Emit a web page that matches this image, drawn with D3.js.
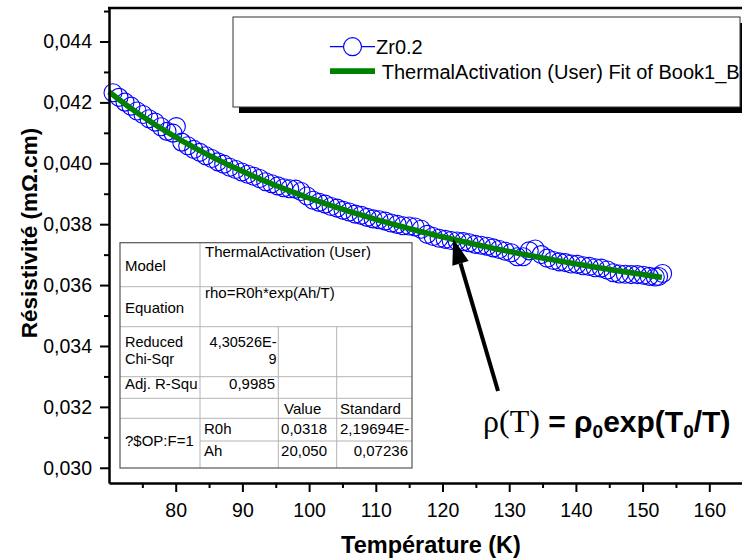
<!DOCTYPE html>
<html>
<head>
<meta charset="utf-8">
<script src="https://cdn.jsdelivr.net/npm/d3@7"></script>
<style>
  html, body { margin: 0; padding: 0; background: #fff; }
  svg { display: block; }
  text { font-family: "Liberation Sans", Arial, sans-serif; fill: #000; }
</style>
</head>
<body>
<div id="chart"></div>
<script>
// Measured resistivity of Zr0.2 versus temperature (K, mΩ.cm)
const temps = [70.6, 71.5, 72.4, 73.3, 74.2, 75.1, 76.0, 76.9, 77.8, 78.7, 79.6, 80.1,
  80.9, 81.8, 82.7, 83.6, 84.5, 85.4, 86.3, 87.2, 88.1, 89.0, 89.9, 90.8, 91.7, 92.6,
  93.5, 94.4, 95.3, 96.2, 97.1, 98.0, 98.8, 99.7, 100.6, 101.5, 102.4, 103.3, 104.2,
  105.1, 106.0, 106.9, 107.8, 108.7, 109.6, 110.5, 111.4, 112.3, 113.2, 114.1, 115.0,
  115.9, 116.8, 117.7, 118.6, 119.5, 120.4, 121.3, 122.2, 123.1, 124.0, 124.9, 125.8,
  126.7, 127.6, 128.5, 129.4, 130.3, 131.2, 132.1, 133.0, 133.9, 134.8, 135.7, 136.6,
  137.5, 138.4, 139.3, 140.2, 141.1, 142.0, 142.9, 143.8, 144.7, 145.6, 146.5, 147.4,
  148.3, 149.2, 150.1, 151.0, 151.9, 152.4, 153.0];
const rho = [0.042315, 0.042165, 0.042008, 0.041876, 0.041717, 0.041602, 0.041461,
  0.041353, 0.041199, 0.041048, 0.040990, 0.041205, 0.040695, 0.040574, 0.040456,
  0.040360, 0.040247, 0.040156, 0.040048, 0.039971, 0.039868, 0.039796, 0.039716,
  0.039638, 0.039573, 0.039498, 0.039396, 0.039326, 0.039257, 0.039199, 0.039164,
  0.039150, 0.039075, 0.038924, 0.038785, 0.038716, 0.038659, 0.038583, 0.038528,
  0.038455, 0.038402, 0.038332, 0.038291, 0.038223, 0.038174, 0.038147, 0.038102,
  0.038037, 0.037993, 0.037949, 0.037938, 0.037906, 0.037836, 0.037667, 0.037598,
  0.037540, 0.037502, 0.037466, 0.037450, 0.037426, 0.037391, 0.037338, 0.037306,
  0.037273, 0.037222, 0.037171, 0.037110, 0.037060, 0.036931, 0.036932, 0.037125,
  0.037187, 0.037001, 0.036884, 0.036808, 0.036763, 0.036738, 0.036694, 0.036680,
  0.036636, 0.036613, 0.036571, 0.036558, 0.036497, 0.036405, 0.036364, 0.036354,
  0.036344, 0.036344, 0.036325, 0.036286, 0.036267, 0.036282, 0.036380];

// Thermal activation fit: rho = R0h * exp(Ah / T)
const fitR0h = 0.0318;
const fitAh = 20.050;
const fitRange = [70, 152.9];

// Axis ticks
const xTicks = [80, 90, 100, 110, 120, 130, 140, 150, 160];
const xMinorTicks = [75, 85, 95, 105, 115, 125, 135, 145, 155, 165];
const yTicks = [0.030, 0.032, 0.034, 0.036, 0.038, 0.040, 0.042, 0.044];
const yMinorTicks = [0.031, 0.033, 0.035, 0.037, 0.039, 0.041, 0.043, 0.045];

// Fit report table
const seriesName = "Zr0.2";
const fitLegend = "ThermalActivation (User) Fit of Book1_B";
const modelName = "ThermalActivation (User)";
const equationText = "rho=R0h*exp(Ah/T)";
const chiSqrText = ["4,30526E-", "9"];
const adjR2Text = "0,9985";
const paramHeaders = ["Value", "Standard"];
const paramNames = ["R0h", "Ah"];
const paramValues = ["0,0318", "20,050"];
const paramErrors = ["2,19694E-", "0,07236"];

const W = 742, H = 559;
const FONT = '"Liberation Sans", Arial, sans-serif';
const svg = d3.select("#chart").append("svg").attr("width", W).attr("height", H);

const x = d3.scaleLinear().domain([70, 170]).range([109, 776]);
const y = d3.scaleLinear().domain([0.0295, 0.0451]).range([483, 8]);
const fmt = d => d3.format(".3f")(d).replace(".", ",");

// Data markers
svg.append("g").selectAll("circle")
  .data(temps.map((t, i) => [t, rho[i]]))
  .join("circle")
  .attr("cx", d => x(d[0])).attr("cy", d => y(d[1])).attr("r", 9)
  .attr("fill", "none").attr("stroke", "#0000ff").attr("stroke-width", 1.1);

// Fit curve from the reported parameters
const fitT = d3.range(fitRange[0], fitRange[1], 0.5).concat([fitRange[1]]);
svg.append("path")
  .datum(fitT)
  .attr("fill", "none").attr("stroke", "#008000").attr("stroke-width", 5.5)
  .attr("d", d3.line().x(t => x(t)).y(t => y(fitR0h * Math.exp(fitAh / t))));

// Axes
const gx = svg.append("g").attr("transform", "translate(0,483)")
  .call(d3.axisBottom(x).tickValues(xTicks).tickSize(9).tickPadding(11).tickSizeOuter(0));
const gxm = svg.append("g").attr("transform", "translate(0,483)")
  .call(d3.axisBottom(x).tickValues(xMinorTicks).tickSize(5).tickFormat("").tickSizeOuter(0));
const gy = svg.append("g").attr("transform", "translate(109,0)")
  .call(d3.axisLeft(y).tickValues(yTicks).tickFormat(fmt).tickSize(9).tickPadding(8).tickSizeOuter(0));
const gym = svg.append("g").attr("transform", "translate(109,0)")
  .call(d3.axisLeft(y).tickValues(yMinorTicks).tickSize(5).tickFormat("").tickSizeOuter(0));
[gx, gxm, gy, gym].forEach(g => {
  g.selectAll(".domain").attr("stroke", "#000").attr("stroke-width", 2.5);
  g.selectAll(".tick line").attr("stroke", "#000").attr("stroke-width", 2);
  g.selectAll("text").attr("font-family", FONT).attr("font-size", 19.5).attr("fill", "#000");
});
gxm.select(".domain").remove();
gym.select(".domain").remove();

// Top frame
svg.append("line").attr("x1", 108).attr("x2", 776).attr("y1", 8).attr("y2", 8)
  .attr("stroke", "#000").attr("stroke-width", 2.5);

// Axis titles
svg.append("text").attr("x", 431).attr("y", 553).attr("text-anchor", "middle")
  .attr("font-size", 23.5).attr("font-weight", "bold").text("Température (K)");
svg.append("text").attr("transform", "translate(37,233) rotate(-90)")
  .attr("text-anchor", "middle").attr("font-size", 22.5).attr("font-weight", "bold")
  .text("Résistivité (mΩ.cm)");

// Legend
const lg = svg.append("g");
lg.append("rect").attr("x", 239).attr("y", 23).attr("width", 507).attr("height", 90).attr("fill", "#000");
lg.append("rect").attr("x", 233).attr("y", 17).attr("width", 507).attr("height", 90)
  .attr("fill", "#fff").attr("stroke", "#333").attr("stroke-width", 1);
svg.append("clipPath").attr("id", "legclip").append("rect")
  .attr("x", 233).attr("y", 17).attr("width", 506).attr("height", 90);
lg.append("line").attr("x1", 330).attr("x2", 375).attr("y1", 46.7).attr("y2", 46.7)
  .attr("stroke", "#0000ff").attr("stroke-width", 1.2);
lg.append("circle").attr("cx", 352.5).attr("cy", 46.7).attr("r", 9)
  .attr("fill", "#fff").attr("stroke", "#0000ff").attr("stroke-width", 1.2);
lg.append("text").attr("x", 376).attr("y", 53.5).attr("font-size", 20).text(seriesName);
lg.append("line").attr("x1", 330).attr("x2", 375).attr("y1", 71.2).attr("y2", 71.2)
  .attr("stroke", "#008000").attr("stroke-width", 5.7);
lg.append("text").attr("x", 381.7).attr("y", 78.5).attr("font-size", 20)
  .attr("clip-path", "url(#legclip)").text(fitLegend);

// Fit report table
const tb = svg.append("g");
const T0 = 242.7, T1 = 468, L = 120, R = 412;
const c1 = 200, c2 = 278.3, c3 = 336.7;
tb.append("rect").attr("x", L).attr("y", T0).attr("width", R - L).attr("height", T1 - T0)
  .attr("fill", "#fff");
const inner = [
  [L, R, 286.7, 286.7], [L, R, 326.7, 326.7], [L, R, 376.7, 376.7],
  [L, R, 398.3, 398.3], [L, R, 418.3, 418.3], [c1, R, 441, 441],
  [c1, c1, T0, T1], [c2, c2, 326.7, T1], [c3, c3, 326.7, T1]
];
tb.selectAll("line.grid").data(inner).join("line").attr("class", "grid")
  .attr("x1", d => d[0]).attr("x2", d => d[1]).attr("y1", d => d[2]).attr("y2", d => d[3])
  .attr("stroke", "#b4b4b4").attr("stroke-width", 1);
tb.append("rect").attr("x", L).attr("y", T0).attr("width", R - L).attr("height", T1 - T0)
  .attr("fill", "none").attr("stroke", "#555").attr("stroke-width", 1.2);
const cell = (tx, ty, s, anchor, size) => tb.append("text").attr("x", tx).attr("y", ty)
  .attr("font-size", size || 15).attr("text-anchor", anchor || "start").attr("fill", "#111").text(s);
cell(125, 271, "Model");
cell(205, 257, modelName);
cell(125, 313, "Equation");
cell(205, 298, equationText);
cell(125, 347, "Reduced", "start", 14.5);
cell(125, 364, "Chi-Sqr", "start", 14.5);
cell(276.5, 347, chiSqrText[0], "end", 14.5);
cell(276.5, 364, chiSqrText[1], "end", 14.5);
cell(125, 389, "Adj. R-Squ");
cell(275, 389, adjR2Text, "end");
cell(284, 414, paramHeaders[0]);
cell(340, 414, paramHeaders[1]);
cell(125, 446, "?$OP:F=1");
cell(204, 434, paramNames[0]);
cell(204, 456, paramNames[1]);
cell(327, 434, paramValues[0], "end");
cell(327, 456, paramValues[1], "end");
cell(340, 434, paramErrors[0]);
cell(408, 456, paramErrors[1], "end");

// Annotation arrow pointing at the fit curve
const tipT = 121.6;
const tip = [x(tipT), y(fitR0h * Math.exp(fitAh / tipT)) - 1];
const tail = [498, 391];
const ang = Math.atan2(tip[1] - tail[1], tip[0] - tail[0]);
const headLen = 26, headW = 8.5;
const base = [tip[0] - headLen * Math.cos(ang), tip[1] - headLen * Math.sin(ang)];
svg.append("line").attr("x1", tail[0]).attr("y1", tail[1]).attr("x2", base[0]).attr("y2", base[1])
  .attr("stroke", "#000").attr("stroke-width", 4);
svg.append("polygon").attr("fill", "#000").attr("points", [
  tip,
  [base[0] + headW * Math.sin(ang), base[1] - headW * Math.cos(ang)],
  [base[0] - headW * Math.sin(ang), base[1] + headW * Math.cos(ang)]
].map(p => p.join(",")).join(" "));

// Model equation
const eq = svg.append("text").attr("x", 483).attr("y", 432).attr("font-size", 30);
eq.append("tspan").attr("font-family", '"Liberation Serif", "Times New Roman", serif')
  .attr("font-size", 32).text("ρ(T)");
eq.append("tspan").attr("font-weight", "bold").text(" = ρ");
eq.append("tspan").attr("font-weight", "bold").attr("font-size", 19).attr("dy", 6).text("0");
eq.append("tspan").attr("font-weight", "bold").attr("dy", -6).text("exp(T");
eq.append("tspan").attr("font-weight", "bold").attr("font-size", 19).attr("dy", 6).text("0");
eq.append("tspan").attr("font-weight", "bold").attr("dy", -6).text("/T)");
</script>
</body>
</html>
